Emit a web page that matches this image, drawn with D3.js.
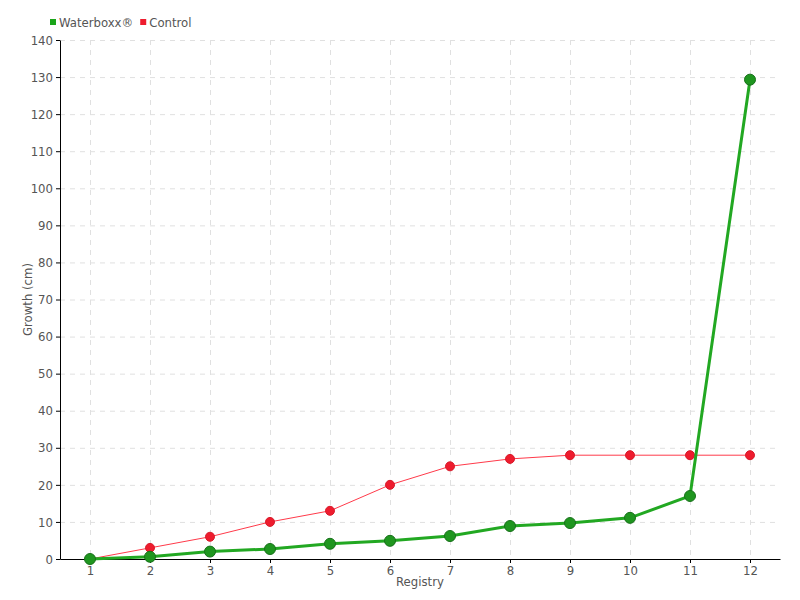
<!DOCTYPE html>
<html>
<head>
<meta charset="utf-8">
<script src="https://cdn.jsdelivr.net/npm/d3@7"></script>
<style>
  body { margin: 0; background: #fff; }
  svg { font-family: "DejaVu Sans", sans-serif; font-stretch: condensed; }
  .axis text { fill: #555; font-size: 13px; font-family: "DejaVu Sans", sans-serif; font-stretch: condensed; }
  .axis path, .axis line { stroke: #000; }
  .grid line { stroke: #e0e0e0; stroke-dasharray: 5,5; }
  .grid path { display: none; }
  .label { fill: #555; font-size: 13px; }
</style>
</head>
<body>
<svg width="800" height="600"></svg>
<script>
var registry = [1, 2, 3, 4, 5, 6, 7, 8, 9, 10, 11, 12];
var waterboxx = [0, 0.6, 2, 2.7, 4.1, 4.9, 6.2, 8.9, 9.7, 11.1, 17, 129.3];
var control = [0, 3, 6, 10, 13, 20, 25, 27, 28, 28, 28, 28];
var yTicks = d3.range(0, 141, 10);

var margin = { top: 40, right: 20, bottom: 41, left: 60 },
    width = 800 - margin.left - margin.right,
    height = 600 - margin.top - margin.bottom;

var svg = d3.select("svg")
    .append("g")
    .attr("transform", "translate(" + margin.left + "," + margin.top + ")");

var x = d3.scalePoint()
    .domain(registry)
    .range([0, width])
    .padding(0.5);

var y = d3.scaleLinear()
    .domain([0, 140])
    .range([height, 0]);

// grid
svg.append("g")
    .attr("class", "grid")
    .call(d3.axisLeft(y).tickValues(yTicks).tickSize(-width).tickFormat(""));
svg.append("g")
    .attr("class", "grid")
    .call(d3.axisTop(x).tickSize(-height).tickFormat(""));

svg.append("g")
    .attr("class", "axis axis--y")
    .call(d3.axisLeft(y).tickValues(yTicks).tickSize(4).tickSizeOuter(0));

svg.append("g")
    .attr("class", "axis axis--x")
    .attr("transform", "translate(0," + height + ")")
    .call(d3.axisBottom(x).tickSize(4).tickSizeOuter(0));

svg.append("text")
    .attr("class", "label")
    .attr("transform", "rotate(-90)")
    .attr("x", -height / 2)
    .attr("y", -28)
    .attr("text-anchor", "middle")
    .text("Growth (cm)");

svg.append("text")
    .attr("class", "label")
    .attr("x", width / 2)
    .attr("y", height + 27)
    .attr("text-anchor", "middle")
    .text("Registry");

function draw(values, lineColor, lineWidth, dotFill, dotStroke, r) {
    var line = d3.line()
        .x(function(d, i) { return x(registry[i]); })
        .y(function(d) { return y(d); });

    svg.append("path")
        .datum(values)
        .attr("fill", "none")
        .attr("stroke", lineColor)
        .attr("stroke-width", lineWidth)
        .attr("d", line);

    svg.selectAll(null)
        .data(values)
        .enter().append("circle")
        .attr("cx", function(d, i) { return x(registry[i]); })
        .attr("cy", function(d) { return y(d); })
        .attr("r", r)
        .attr("fill", dotFill)
        .attr("stroke", dotStroke)
        .attr("stroke-width", 1);
}

draw(control, "#ff3a4a", 1, "#ee1c2e", "#d81a2a", 4.5);
draw(waterboxx, "#22a822", 3, "#1f961f", "#17701a", 5.5);

// legend
var legend = [["Waterboxx\u00ae", "#1aa51a"], ["Control", "#ee1c2e"]];
var lg = d3.select("svg").append("g").attr("transform", "translate(50,22)");
var lx = 0;
legend.forEach(function(d) {
    lg.append("rect")
        .attr("x", lx).attr("y", -3)
        .attr("width", 6).attr("height", 6)
        .attr("fill", d[1]);
    var t = lg.append("text")
        .attr("class", "label")
        .attr("x", lx + 9)
        .attr("y", 5)
        .text(d[0]);
    lx += 9 + t.node().getComputedTextLength() + 7;
});
</script>
</body>
</html>
